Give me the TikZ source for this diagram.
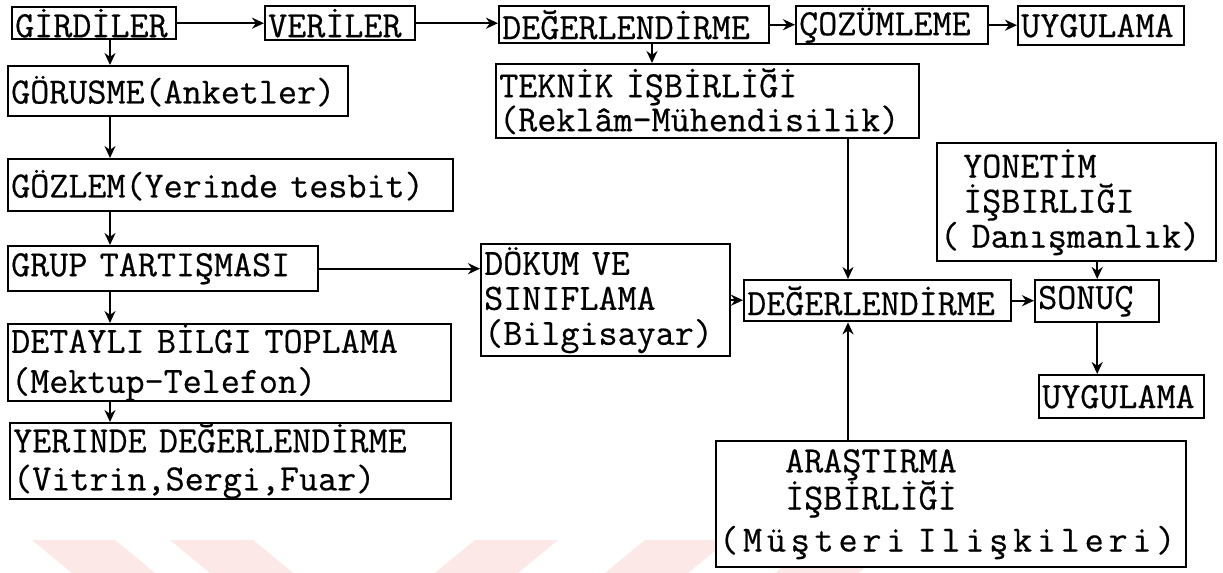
\documentclass[tikz,border=0pt]{standalone}
\usepackage{fontspec}
\setmonofont{Latin Modern Mono}[FakeBold=0.5]
\usetikzlibrary{arrows.meta}
\definecolor{markred}{RGB}{253,232,232}
\tikzstyle{box} = [
    rectangle,
    anchor=north west,
    draw=black,
    line width=1.2pt,
    inner xsep=1.5pt,
    inner ysep=0pt,
    align=left,
    font=\fontsize{18.5}{17}\selectfont\ttfamily
]
\tikzstyle{arrow} = [line width=1.2pt,->,>={Stealth[length=6pt,width=5.5pt]}]

\begin{document}
\begin{tikzpicture}[x=0.5pt, y=-0.5pt]

\useasboundingbox (0,0) rectangle (1223,573);
\fill[white] (0,0) rectangle (1223,573);

% faint stripes at the bottom
\fill[markred] (32,540) -- (115,540) -- (155,573) -- (72,573) -- cycle;
\fill[markred] (170,540) -- (253,540) -- (293,573) -- (210,573) -- cycle;
\fill[markred] (475,540) -- (558,540) -- (518,573) -- (435,573) -- cycle;
\fill[markred] (645,540) -- (728,540) -- (688,573) -- (605,573) -- cycle;
\fill[markred] (815,540) -- (898,540) -- (858,573) -- (775,573) -- cycle;

\coordinate (spine) at (110,0);
\coordinate (tekx) at (652,0);
\coordinate (degx) at (848,0);

% top row
\node (girdiler) [box, text width=79pt, minimum height=16pt] at (11,6) {GİRDİLER};
\node (veriler) [box, text width=72pt, minimum height=17pt] at (264,5) {VERİLER};
\node (deg1) [box, text width=132pt, minimum height=18.5pt] at (498,5) {DEĞERLENDİRME};
\node (cozum) [box, text width=93pt, minimum height=19pt] at (795,5) {ÇOZÜMLEME};
\node (uyg1) [box, text width=80pt, minimum height=19.5pt] at (1017,5) {UYGULAMA};

% left column
\node (gorusme) [box, text width=167pt, minimum height=25pt] at (7,65) {GÖRUSME(Anketler)};
\node (gozlem) [box, text width=219.5pt, minimum height=26pt] at (7,158) {GÖZLEM(Yerinde tesbit)};
\node (grup) [box, text width=152pt, minimum height=22.5pt] at (7,245) {GRUP TARTIŞMASI};
\node (detayli) [box, text width=218.5pt, minimum height=38.5pt] at (7,323)
{DETAYLI BİLGI TOPLAMA\\[3pt](Mektup-Telefon)};
\node (yerinde) [box, text width=217.5pt, minimum height=37.5pt] at (9,422)
{YERINDE DEĞERLENDİRME\\[2pt](Vitrin,Sergi,Fuar)};

% middle and right
\node (teknik) [box, text width=208.5pt, minimum height=37pt] at (495,63)
{TEKNİK İŞBİRLİĞİ\\[0pt](Reklâm-Mühendisilik)};
\node (dokum) [box, text width=121.5pt, minimum height=56pt] at (480,243)
{DÖKUM VE\\[0.5pt]SINIFLAMA\\[0.5pt](Bilgisayar)};
\node (deg2) [box, text width=130.5pt, minimum height=20.5pt] at (743,279) {DEĞERLENDİRME};
\node (sonuc) [box, text width=59pt, minimum height=21pt] at (1034,279) {SONUÇ};
\node (yonetim) [box, text width=136.5pt, minimum height=59pt] at (936,142)
{\hspace*{11.5pt}YONETİM\\[0.5pt]\hspace*{11.5pt}İŞBIRLIĞI\\[0.5pt]( Danışmanlık)};
\node (uyg2) [box, text width=79.5pt, minimum height=21.5pt] at (1038,374) {UYGULAMA};
\node (arastirma) [box, fill=white, text width=232pt, minimum height=63pt] at (715,440)
{\hspace*{33pt}ARAŞTIRMA\\[-1pt]\hspace*{33pt}İŞBİRLİĞİ\\[4pt]{\addfontfeature{LetterSpace=13}(Müşteri Ilişkileri)}};

\draw [arrow] (girdiler.east) -- (girdiler.east -| veriler.west);
\draw [arrow] (veriler.east) -- (veriler.east -| deg1.west);
\draw [arrow] (deg1.east) -- (deg1.east -| cozum.west);
\draw [arrow] (cozum.east) -- (cozum.east -| uyg1.west);

\draw [arrow] (girdiler.south -| spine) -- (gorusme.north -| spine);
\draw [arrow] (gorusme.south -| spine) -- (gozlem.north -| spine);
\draw [arrow] (gozlem.south -| spine) -- (grup.north -| spine);
\draw [arrow] (grup.south -| spine) -- (detayli.north -| spine);
\draw [arrow] (detayli.south -| spine) -- (yerinde.north -| spine);

\draw [arrow] (deg1.south -| tekx) -- (teknik.north -| tekx);
\draw [arrow] (grup.east) -- (grup.east -| dokum.west);
\draw [arrow] (dokum.east) -- (dokum.east -| deg2.west);
\draw [arrow] (teknik.south -| degx) -- (deg2.north -| degx);
\draw [arrow] (arastirma.north -| degx) -- (deg2.south -| degx);
\draw [arrow] (deg2.east) -- (deg2.east -| sonuc.west);
\draw [arrow] (sonuc.north |- yonetim.south) -- (sonuc.north);
\draw [arrow] (sonuc.south) -- (sonuc.south |- uyg2.north);

\end{tikzpicture}
\end{document}
